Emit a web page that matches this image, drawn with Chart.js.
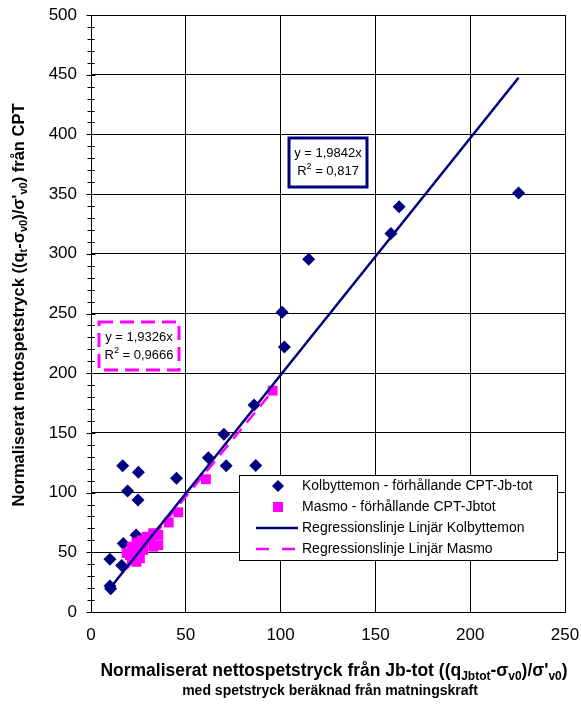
<!DOCTYPE html>
<html>
<head>
<meta charset="utf-8">
<script src="https://cdn.jsdelivr.net/npm/chart.js@4.4.1/dist/chart.umd.min.js"></script>
<style>
  html, body { margin: 0; padding: 0; background: #fff; }
  #wrap { width: 581px; height: 704px; }
</style>
</head>
<body>
<div id="wrap"><canvas id="chart" width="581" height="704"></canvas></div>
<script>
//--------------------------------------------------------------------------------
//--- Input data
//--------------------------------------------------------------------------------

var kolbyX = [225.5, 162.5, 158.2, 114.8, 100.8, 102.0, 86.0, 70.1, 61.9, 71.3, 86.9, 45.1,
              16.7, 25.0, 19.3, 24.8, 23.8, 17.0, 10.0, 16.2, 10.0, 10.4];
var kolbyY = [351.0, 339.5, 317.0, 295.5, 251.0, 222.0, 173.4, 148.8, 129.2, 122.5, 122.8, 112.0,
              122.5, 117.0, 101.3, 93.8, 64.5, 57.3, 44.2, 39.0, 21.8, 19.4];

var masmoX = [95.8, 60.6, 46.0, 41.0, 35.5, 35.5, 32.8, 29.3, 26.7, 24.0, 21.5, 18.8,
              21.5, 25.8, 27.6, 32.9, 24.8, 31.0, 24.0, 20.6];
var masmoY = [185.4, 111.2, 83.5, 75.0, 64.5, 56.0, 66.0, 63.0, 60.0, 58.0, 54.7, 49.4,
              43.5, 45.0, 52.0, 54.7, 50.5, 59.0, 42.0, 47.7];

var kolbySlope = 1.9842, kolbyR2 = 0.817;
var masmoSlope = 1.9326, masmoR2 = 0.9666;

var xTickValues = [0, 50, 100, 150, 200, 250];
var yMin = 0, yMax = 500, yMajorStep = 50, yMinorStep = 10;

var seriesNames = ['Kolbyttemon - förhållande CPT-Jb-tot',
                   'Masmo - förhållande CPT-Jbtot',
                   'Regressionslinje Linjär Kolbyttemon',
                   'Regressionslinje Linjär Masmo'];

var NAVY = '#000080', MAGENTA = '#FF00FF';
var FONT = '"Liberation Sans", Arial, sans-serif';

function toPoints(xs, ys) {
    return xs.map(function (x, i) { return {x: x, y: ys[i]}; });
}

// regression line through origin, spanning the series' x range
function trendLine(xs, slope) {
    var lo = Math.min.apply(null, xs), hi = Math.max.apply(null, xs);
    return [{x: lo, y: slope * lo}, {x: hi, y: slope * hi}];
}

function fmt(v) { return String(v).replace('.', ','); }

//----------------------------------------
//--- Text helper with sub/superscripts
//----------------------------------------

// parts: [[text, mode]] where mode is '', 'sub' or 'sup'
function richWidth(ctx, parts, size, weight) {
    var w = 0;
    parts.forEach(function (p) {
        var s = p[1] ? Math.round(size * 0.68) : size;
        ctx.font = weight + ' ' + s + 'px ' + FONT;
        w += ctx.measureText(p[0]).width;
    });
    return w;
}

function drawRich(ctx, parts, cx, cy, size, weight) {
    var x = cx - richWidth(ctx, parts, size, weight) / 2;
    ctx.textBaseline = 'middle';
    ctx.textAlign = 'left';
    parts.forEach(function (p) {
        var s = p[1] ? Math.round(size * 0.68) : size;
        var dy = p[1] === 'sub' ? size * 0.32 : (p[1] === 'sup' ? -size * 0.35 : 0);
        ctx.font = weight + ' ' + s + 'px ' + FONT;
        ctx.fillText(p[0], x, cy + dy);
        x += ctx.measureText(p[0]).width;
    });
}

//----------------------------------------
//--- Decorations: minor ticks, titles, legend, equation boxes
//----------------------------------------

var decorations = {
    id: 'decorations',
    beforeDatasetsDraw: function (chart) {
        var ctx = chart.ctx, ys = chart.scales.y, left = chart.chartArea.left;
        ctx.save();
        ctx.strokeStyle = '#000';
        ctx.lineWidth = 1;
        for (var v = yMin; v <= yMax; v += yMinorStep) {
            var py = Math.round(ys.getPixelForValue(v)) + 0.5;
            var len = (v % yMajorStep === 0) ? 4.5 : 3.5;
            ctx.beginPath();
            ctx.moveTo(left - len, py);
            ctx.lineTo(left + len, py);
            ctx.stroke();
        }
        ctx.restore();
    },
    afterDraw: function (chart) {
        var ctx = chart.ctx;
        ctx.save();
        ctx.fillStyle = '#000';

        // axis titles
        drawRich(ctx, [['Normaliserat nettospetstryck från Jb-tot ((q', ''], ['Jbtot', 'sub'],
                       ['-σ', ''], ['v0', 'sub'], [")/σ'", ''], ['v0', 'sub'], [')', '']],
                 334, 671, 17.5, 'bold');
        drawRich(ctx, [['med spetstryck beräknad från matningskraft', '']], 330, 691, 14, 'bold');

        ctx.save();
        ctx.translate(19, 305);
        ctx.rotate(-Math.PI / 2);
        drawRich(ctx, [['Normaliserat nettospetstryck ((q', ''], ['t', 'sub'], ['-σ', ''], ['v0', 'sub'],
                       [")/σ'", ''], ['v0', 'sub'], [') från CPT', '']],
                 0, 0, 16.5, 'bold');
        ctx.restore();

        // legend box
        var lx = 239.5, ly = 475.5, lw = 318, lh = 85;
        ctx.fillStyle = '#fff';
        ctx.fillRect(lx, ly, lw, lh);
        ctx.strokeStyle = '#000';
        ctx.lineWidth = 1;
        ctx.strokeRect(lx, ly, lw, lh);

        var rows = [486, 507, 528, 549], mx = 278;
        ctx.fillStyle = NAVY;
        ctx.beginPath();
        ctx.moveTo(mx, rows[0] - 6); ctx.lineTo(mx + 6, rows[0]);
        ctx.lineTo(mx, rows[0] + 6); ctx.lineTo(mx - 6, rows[0]);
        ctx.closePath(); ctx.fill();
        ctx.fillStyle = MAGENTA;
        ctx.fillRect(mx - 5, rows[1] - 5, 10, 10);

        ctx.lineWidth = 2.5;
        ctx.strokeStyle = NAVY;
        ctx.beginPath(); ctx.moveTo(256, rows[2]); ctx.lineTo(298, rows[2]); ctx.stroke();
        ctx.strokeStyle = MAGENTA;
        ctx.setLineDash([13, 13]);
        ctx.beginPath(); ctx.moveTo(256, rows[3]); ctx.lineTo(298, rows[3]); ctx.stroke();
        ctx.setLineDash([]);

        ctx.fillStyle = '#000';
        ctx.font = '14px ' + FONT;
        ctx.textAlign = 'left';
        ctx.textBaseline = 'middle';
        seriesNames.forEach(function (name, i) { ctx.fillText(name, 302, rows[i]); });

        // regression equation boxes
        ctx.fillStyle = '#fff';
        ctx.fillRect(289, 138, 78, 49);
        ctx.strokeStyle = NAVY;
        ctx.lineWidth = 3;
        ctx.strokeRect(289, 138, 78, 49);
        ctx.fillStyle = '#000';
        drawRich(ctx, [['y = ' + fmt(kolbySlope) + 'x', '']], 328, 153, 13, 'normal');
        drawRich(ctx, [['R', ''], ['2', 'sup'], [' = ' + fmt(kolbyR2), '']], 328, 171, 13, 'normal');

        ctx.fillStyle = '#fff';
        ctx.fillRect(99, 322, 80, 48);
        ctx.strokeStyle = MAGENTA;
        ctx.setLineDash([14, 7]);
        ctx.strokeRect(99, 322, 80, 48);
        ctx.setLineDash([]);
        ctx.fillStyle = '#000';
        drawRich(ctx, [['y = ' + fmt(masmoSlope) + 'x', '']], 139, 337, 13, 'normal');
        drawRich(ctx, [['R', ''], ['2', 'sup'], [' = ' + fmt(masmoR2), '']], 139, 355, 13, 'normal');

        ctx.restore();
    }
};

//----------------------------------------
//--- Scatter chart
//----------------------------------------

var chart = new Chart(document.getElementById('chart').getContext('2d'), {
    type: 'scatter',
    data: {
        datasets: [{
            type: 'line', label: seriesNames[2], data: trendLine(kolbyX, kolbySlope),
            borderColor: NAVY, borderWidth: 2.5, pointRadius: 0, fill: false, order: 0
        }, {
            type: 'line', label: seriesNames[3], data: trendLine(masmoX, masmoSlope),
            borderColor: MAGENTA, borderWidth: 2.5, borderDash: [13, 8], pointRadius: 0, fill: false, order: 1
        }, {
            label: seriesNames[1], data: toPoints(masmoX, masmoY),
            pointStyle: 'rect', pointRadius: 7, pointBorderWidth: 0,
            backgroundColor: MAGENTA, borderColor: MAGENTA, order: 2
        }, {
            label: seriesNames[0], data: toPoints(kolbyX, kolbyY),
            pointStyle: 'rectRot', pointRadius: 6.5, pointBorderWidth: 0,
            backgroundColor: NAVY, borderColor: NAVY, order: 3
        }]
    },
    options: {
        responsive: false, animation: false,
        layout: {padding: {left: 0, top: 15, right: 16, bottom: 0}},
        plugins: {legend: {display: false}, tooltip: {enabled: false}},
        scales: {
            x: {
                type: 'linear', min: xTickValues[0], max: xTickValues[xTickValues.length - 1],
                afterFit: function (s) { s.height = 92; s.paddingLeft = 0; s.paddingRight = 0; },
                afterBuildTicks: function (s) { s.ticks = xTickValues.map(function (v) { return {value: v}; }); },
                grid: {color: '#000', lineWidth: 1, drawTicks: false},
                border: {color: '#000', width: 1},
                ticks: {color: '#000', padding: 13, font: {family: FONT, size: 17}}
            },
            y: {
                type: 'linear', min: yMin, max: yMax,
                afterFit: function (s) { s.width = 91; s.paddingTop = 0; s.paddingBottom = 0; },
                grid: {
                    color: function (c) { return c.tick.value % yMajorStep === 0 ? '#000' : 'rgba(0,0,0,0)'; },
                    lineWidth: 1, drawTicks: false
                },
                border: {color: '#000', width: 1},
                ticks: {
                    stepSize: yMinorStep, autoSkip: false, color: '#000', padding: 14,
                    font: {family: FONT, size: 17},
                    callback: function (v) { return v % yMajorStep === 0 ? v : ''; }
                }
            }
        }
    },
    plugins: [decorations]
});
</script>
</body>
</html>
